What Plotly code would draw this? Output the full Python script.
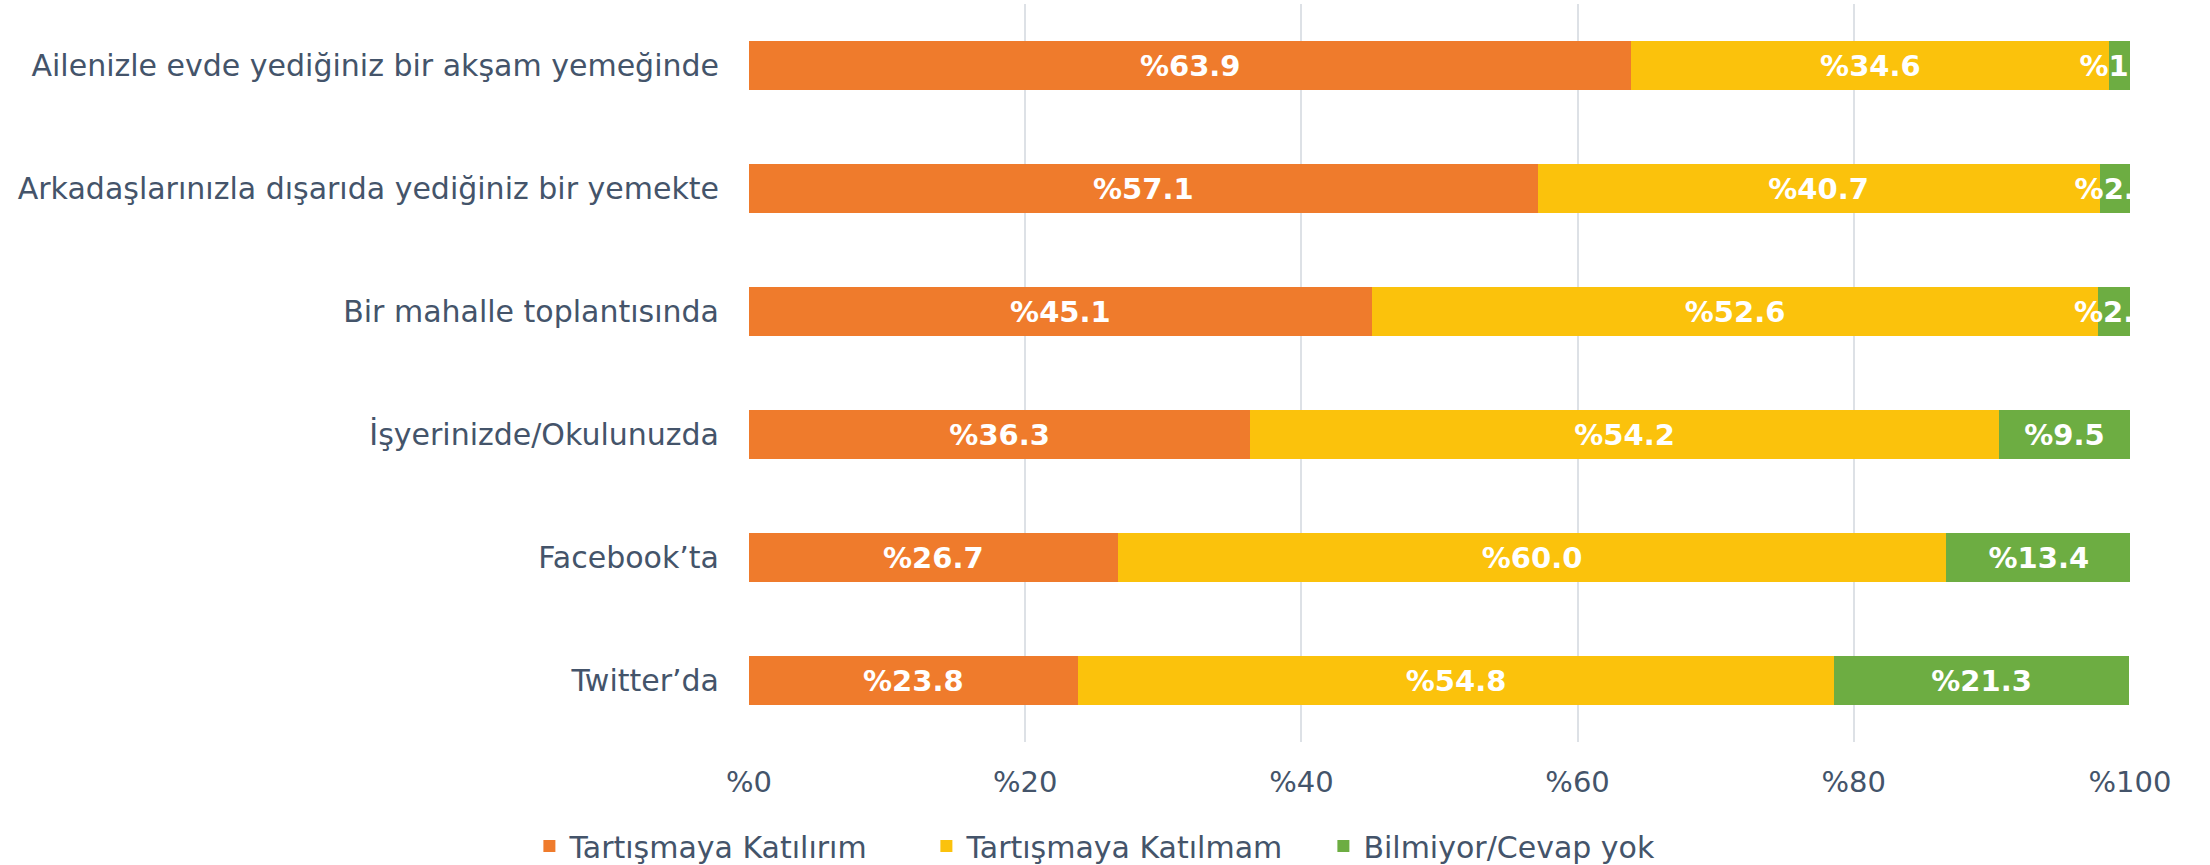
import plotly.graph_objects as go

categories = [
    "Ailenizle evde yediğiniz bir akşam yemeğinde",
    "Arkadaşlarınızla dışarıda yediğiniz bir yemekte",
    "Bir mahalle toplantısında",
    "İşyerinizde/Okulunuzda",
    "Facebook’ta",
    "Twitter’da",
]
katilirim = [63.9, 57.1, 45.1, 36.3, 26.7, 23.8]
katilmam = [34.6, 40.7, 52.6, 54.2, 60.0, 54.8]
bilmiyor = [1.5, 2.2, 2.3, 9.5, 13.4, 21.3]
series_names = ["Tartışmaya Katılırım", "Tartışmaya Katılmam", "Bilmiyor/Cevap yok"]
colors = ["#EF7B2C", "#FBC20C", "#6DAD42"]
tick_vals = [0, 20, 40, 60, 80, 100]
tick_text = ["%0", "%20", "%40", "%60", "%80", "%100"]

FONT = "DejaVu Sans"
TXT = "#44546A"

fig = go.Figure()
for name, vals, col in zip(series_names, [katilirim, katilmam, bilmiyor], colors):
    fig.add_trace(go.Bar(
        y=categories, x=vals, name=name, orientation="h",
        marker=dict(color=col, line=dict(width=0)),
        texttemplate="%%{x:.1f}", textposition="inside", textangle=0,
        insidetextanchor="middle", constraintext="none",
        insidetextfont=dict(color="white", size=29, family=FONT, weight="bold"),
        cliponaxis=True,
    ))

fig.update_layout(
    barmode="stack", bargap=0.594,
    width=2210, height=865,
    margin=dict(l=749, r=80, t=4, b=123, autoexpand=False),
    paper_bgcolor="white", plot_bgcolor="white",
    font=dict(family=FONT, color=TXT, size=30),
    legend=dict(orientation="h", xref="container", yref="container",
                x=0.509, xanchor="center", y=0.022, yanchor="middle",
                font=dict(size=30, color=TXT), traceorder="normal",
                itemwidth=30, entrywidth=352),
    showlegend=True,
)
fig.update_xaxes(range=[0, 100], tickvals=tick_vals, ticktext=tick_text,
                 showgrid=True, gridcolor="#DDE1E6", gridwidth=2, zeroline=False,
                 tickfont=dict(size=29, color=TXT), ticks="", ticklabelstandoff=20,
                 showline=False, automargin=False)
fig.update_yaxes(autorange="reversed", tickfont=dict(size=30, color=TXT),
                 ticks="", ticklabelstandoff=29, showgrid=False, automargin=False)

fig.write_html("out.html", config={"displayModeBar": False},
               post_script="document.body.style.margin='0';document.body.style.padding='0';document.body.style.overflow='hidden';")
